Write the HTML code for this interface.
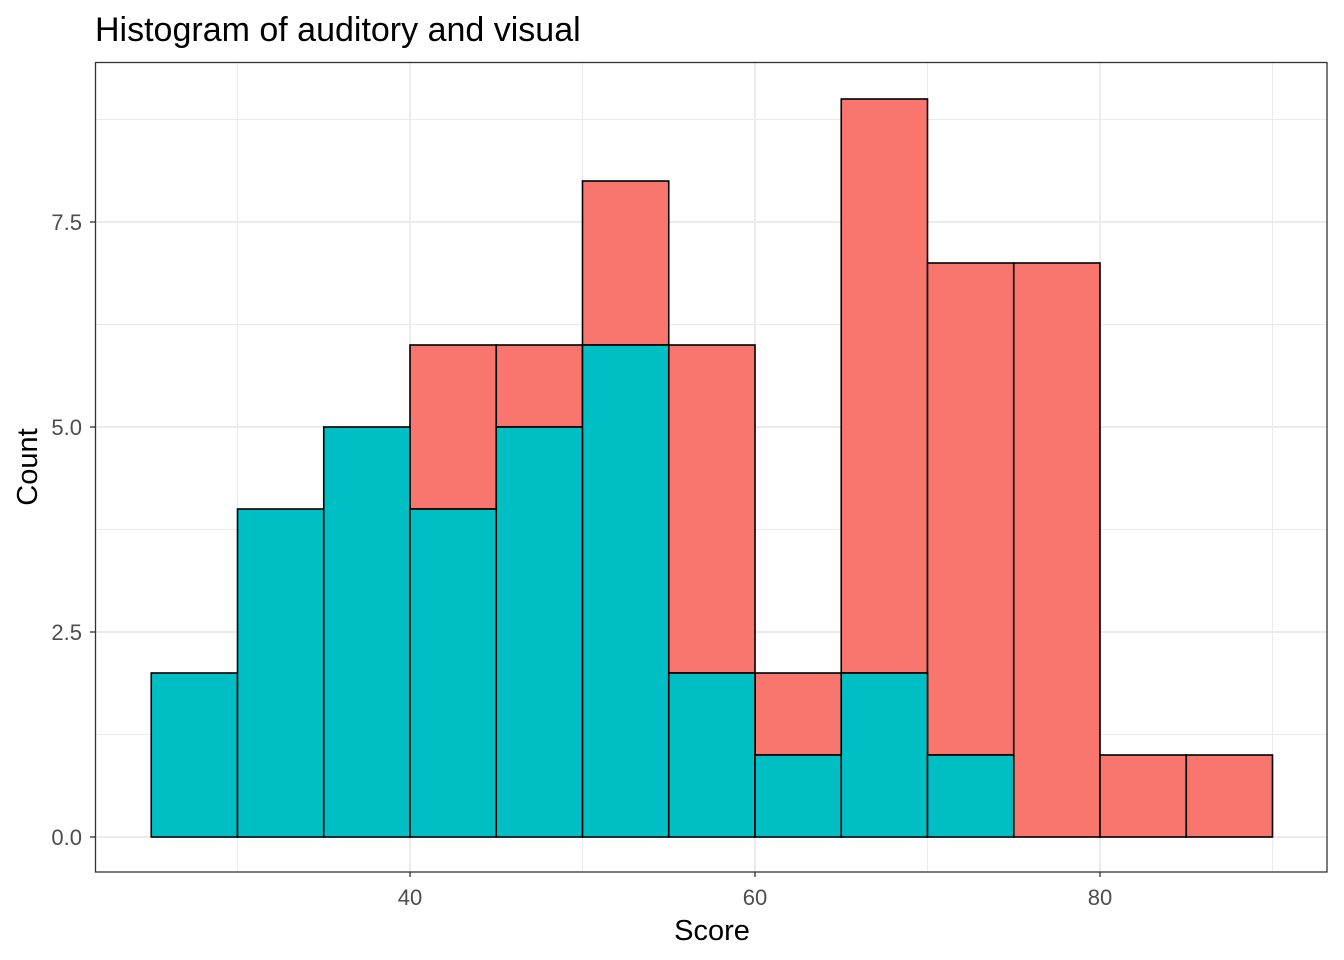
<!DOCTYPE html>
<html><head><meta charset="utf-8"><style>
html,body{margin:0;padding:0;background:#fff;}
svg{display:block;font-family:"Liberation Sans",Arial,sans-serif;}
</style></head><body>
<svg width="1344" height="960" viewBox="0 0 1344 960" xmlns="http://www.w3.org/2000/svg">
<rect width="1344" height="960" fill="#fff"/>
<g stroke="#ebebeb" stroke-width="1">
<line x1="95" x2="1327" y1="119.5" y2="119.5"/>
<line x1="95" x2="1327" y1="324.5" y2="324.5"/>
<line x1="95" x2="1327" y1="529.5" y2="529.5"/>
<line x1="95" x2="1327" y1="734.5" y2="734.5"/>
<line x1="237.5" x2="237.5" y1="62" y2="872"/>
<line x1="582.5" x2="582.5" y1="62" y2="872"/>
<line x1="927.5" x2="927.5" y1="62" y2="872"/>
<line x1="1272.5" x2="1272.5" y1="62" y2="872"/>
</g>
<g stroke="#ebebeb" stroke-width="2">
<line x1="95" x2="1327" y1="222" y2="222"/>
<line x1="95" x2="1327" y1="427" y2="427"/>
<line x1="95" x2="1327" y1="632" y2="632"/>
<line x1="95" x2="1327" y1="837" y2="837"/>
<line x1="410" x2="410" y1="62" y2="872"/>
<line x1="755" x2="755" y1="62" y2="872"/>
<line x1="1100" x2="1100" y1="62" y2="872"/>
</g>
<g stroke="#000" stroke-width="1.6">
<rect x="410" y="345" width="86.25" height="164" fill="#f8766d"/>
<rect x="496.25" y="345" width="86.25" height="82" fill="#f8766d"/>
<rect x="582.5" y="181" width="86.25" height="164" fill="#f8766d"/>
<rect x="668.75" y="345" width="86.25" height="328" fill="#f8766d"/>
<rect x="755" y="673" width="86.25" height="82" fill="#f8766d"/>
<rect x="841.25" y="99" width="86.25" height="574" fill="#f8766d"/>
<rect x="927.5" y="263" width="86.25" height="492" fill="#f8766d"/>
<rect x="1013.75" y="263" width="86.25" height="574" fill="#f8766d"/>
<rect x="1100" y="755" width="86.25" height="82" fill="#f8766d"/>
<rect x="1186.25" y="755" width="86.25" height="82" fill="#f8766d"/>
<rect x="151.25" y="673" width="86.25" height="164" fill="#00bfc4"/>
<rect x="237.5" y="509" width="86.25" height="328" fill="#00bfc4"/>
<rect x="323.75" y="427" width="86.25" height="410" fill="#00bfc4"/>
<rect x="410" y="509" width="86.25" height="328" fill="#00bfc4"/>
<rect x="496.25" y="427" width="86.25" height="410" fill="#00bfc4"/>
<rect x="582.5" y="345" width="86.25" height="492" fill="#00bfc4"/>
<rect x="668.75" y="673" width="86.25" height="164" fill="#00bfc4"/>
<rect x="755" y="755" width="86.25" height="82" fill="#00bfc4"/>
<rect x="841.25" y="673" width="86.25" height="164" fill="#00bfc4"/>
<rect x="927.5" y="755" width="86.25" height="82" fill="#00bfc4"/>
</g>
<rect x="95.5" y="62.5" width="1231.5" height="809.5" fill="none" stroke="#333" stroke-width="1.3"/>
<g stroke="#333" stroke-width="1.3">
<line x1="90" x2="95" y1="222" y2="222"/>
<line x1="90" x2="95" y1="427" y2="427"/>
<line x1="90" x2="95" y1="632" y2="632"/>
<line x1="90" x2="95" y1="837" y2="837"/>
<line x1="410" x2="410" y1="872" y2="877"/>
<line x1="755" x2="755" y1="872" y2="877"/>
<line x1="1100" x2="1100" y1="872" y2="877"/>
</g>
<g fill="#4d4d4d" font-size="22" text-anchor="end">
<text x="82" y="230">7.5</text>
<text x="82" y="435">5.0</text>
<text x="82" y="640">2.5</text>
<text x="82" y="845">0.0</text>
</g>
<g fill="#4d4d4d" font-size="22" text-anchor="middle">
<text x="410" y="905">40</text>
<text x="755" y="905">60</text>
<text x="1100" y="905">80</text>
</g>
<text x="712" y="940" font-size="29" text-anchor="middle" fill="#000">Score</text>
<text transform="translate(37,467) rotate(-90)" font-size="29" text-anchor="middle" fill="#000">Count</text>
<text x="95" y="41" font-size="34" fill="#000">Histogram of auditory and visual</text>
</svg>
</body></html>
